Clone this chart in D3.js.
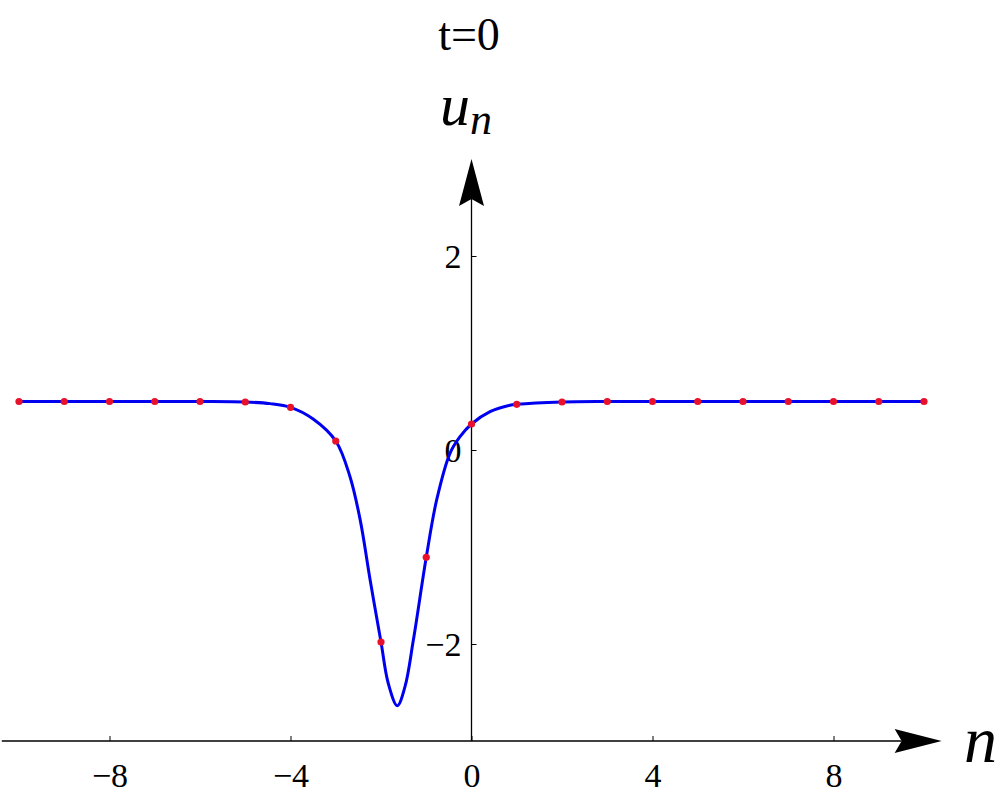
<!DOCTYPE html>
<html>
<head>
<meta charset="utf-8">
<script src="https://cdn.jsdelivr.net/npm/d3@7"></script>
<style>
  body { margin: 0; background: #fff; }
  svg { display: block; }
</style>
</head>
<body>
<svg id="chart" width="1000" height="799"></svg>
<script>
// lattice sites and their values (red dots)
var siteN = [-10, -9, -8, -7, -6, -5, -4, -3, -2, -1, 0, 1, 2, 3, 4, 5, 6, 7, 8, 9, 10];
var siteU = [0.5, 0.5, 0.5, 0.5, 0.5, 0.495, 0.44, 0.093, -1.98, -1.106, 0.268, 0.471, 0.495, 0.5, 0.5, 0.5, 0.5, 0.5, 0.5, 0.5, 0.5];

// continuous profile (blue line)
var curveN = [-10, -8, -6, -5, -4.45, -4, -3.5, -3, -2.685, -2.46, -2.24, -2, -1.84, -1.64, -1.47, -1.285, -1, -0.77, -0.475, -0.254, 0, 0.41, 0.85, 1, 2, 3, 5, 8, 10];
var curveU = [0.5, 0.5, 0.5, 0.495, 0.478, 0.44, 0.32, 0.093, -0.275, -0.72, -1.34, -1.98, -2.405, -2.636, -2.44, -1.96, -1.106, -0.515, -0.034, 0.137, 0.268, 0.395, 0.462, 0.471, 0.495, 0.5, 0.5, 0.5, 0.5];

var xTicks = [-8, -4, 0, 4, 8];
var yTicks = [-2, 0, 2];
var title = "t=0";

var serif = '"Liberation Serif", Tinos, "DejaVu Serif", "Noto Serif", serif';

var svg = d3.select('#chart');

var x = d3.scaleLinear().domain([-10, 10]).range([19, 924]);
var y = d3.scaleLinear().domain([-2, 2]).range([644, 256]);

var xMin = -10.38, xTip = 10.39;   // horizontal axis extent
var yMin = -3, yTip = 3.0;         // vertical axis extent

// x axis
var xAxis = d3.axisBottom(x)
	.tickValues(xTicks)
	.tickSizeInner(-5)
	.tickSizeOuter(0)
	.tickPadding(22)
	.tickFormat(d3.format('d'));

var gx = svg.append('g')
	.attr('transform', 'translate(0,' + y(yMin) + ')')
	.call(xAxis)
	.attr('font-family', serif)
	.attr('font-size', 34);
gx.select('.domain').remove();
gx.selectAll('.tick line').attr('stroke', '#000').attr('stroke-width', 1);
gx.selectAll('.tick text').attr('font-family', serif);

// y axis
var yAxis = d3.axisLeft(y)
	.tickValues(yTicks)
	.tickSizeInner(-5)
	.tickSizeOuter(0)
	.tickPadding(10)
	.tickFormat(d3.format('d'));

var gy = svg.append('g')
	.attr('transform', 'translate(' + x(0) + ',0)')
	.call(yAxis)
	.attr('font-family', serif)
	.attr('font-size', 34);
gy.select('.domain').remove();
gy.selectAll('.tick line').attr('stroke', '#000').attr('stroke-width', 1);
gy.selectAll('.tick text').attr('font-family', serif).attr('dy', '0.34em');

// axis lines with arrowheads
var ax0 = y(yMin);
svg.append('line')
	.attr('x1', x(xMin)).attr('x2', x(xTip) - 40)
	.attr('y1', ax0).attr('y2', ax0)
	.attr('stroke', '#000').attr('stroke-width', 1.3);
svg.append('path')
	.attr('d', 'M' + x(xTip) + ',' + ax0 +
		'L' + (x(xTip) - 47) + ',' + (ax0 - 12) +
		'L' + (x(xTip) - 40) + ',' + ax0 +
		'L' + (x(xTip) - 47) + ',' + (ax0 + 12) + 'Z')
	.attr('fill', '#000');

var ay0 = x(0);
svg.append('line')
	.attr('x1', ay0).attr('x2', ay0)
	.attr('y1', y(yMin)).attr('y2', y(yTip) + 40)
	.attr('stroke', '#000').attr('stroke-width', 1.3);
svg.append('path')
	.attr('d', 'M' + ay0 + ',' + y(yTip) +
		'L' + (ay0 - 12.5) + ',' + (y(yTip) + 47) +
		'L' + ay0 + ',' + (y(yTip) + 40) +
		'L' + (ay0 + 12.5) + ',' + (y(yTip) + 47) + 'Z')
	.attr('fill', '#000');

// profile line
var line = d3.line()
	.x(function(d){ return x(d[0]) })
	.y(function(d){ return y(d[1]) })
	.curve(d3.curveCatmullRom.alpha(0.5));

svg.append('path')
	.datum(d3.zip(curveN, curveU))
	.attr('d', line)
	.attr('fill', 'none')
	.attr('stroke', '#0000f0')
	.attr('stroke-width', 3);

// lattice dots
svg.selectAll('circle.site')
	.data(d3.zip(siteN, siteU))
	.enter()
	.append('circle')
	.attr('class', 'site')
	.attr('cx', function(d){ return x(d[0]) })
	.attr('cy', function(d){ return y(d[1]) })
	.attr('r', 3.6)
	.attr('fill', '#e8102a');

// labels
svg.append('text')
	.attr('x', 469).attr('y', 50)
	.attr('text-anchor', 'middle')
	.attr('font-family', serif)
	.attr('font-size', 46)
	.text(title);

var ulab = svg.append('text')
	.attr('x', 440).attr('y', 125)
	.attr('font-family', serif)
	.attr('font-size', 60)
	.attr('font-style', 'italic');
ulab.append('tspan').text('u');
ulab.append('tspan')
	.attr('dy', 9)
	.attr('font-size', 44)
	.text('n');

svg.append('text')
	.attr('x', 964).attr('y', 762)
	.attr('font-family', serif)
	.attr('font-size', 66)
	.attr('font-style', 'italic')
	.text('n');
</script>
</body>
</html>
